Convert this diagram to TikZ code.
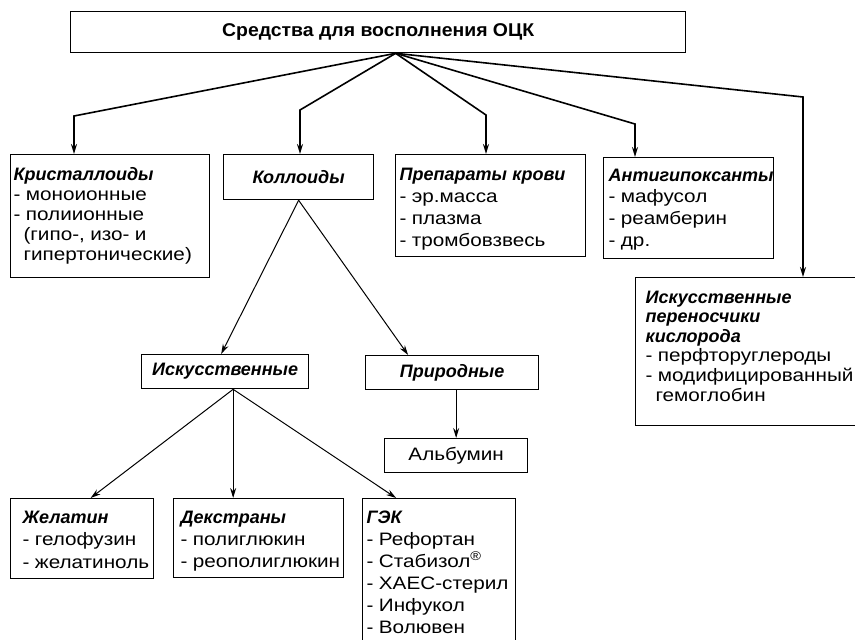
\documentclass[tikz,border=0pt]{standalone}
\usepackage{fontspec}
\setmainfont{Liberation Sans}[UprightFeatures={FakeStretch=1.15},BoldFeatures={FakeStretch=1.05}]
\usetikzlibrary{arrows.meta,positioning}
\tikzstyle{blok} = [draw, line width=1.3pt, rectangle, anchor=north west, inner ysep=0pt, font=\fontsize{18}{20}\selectfont]
\tikzstyle{zagolovok} = [blok, font=\fontsize{18}{20}\selectfont\bfseries\itshape]
\tikzstyle{strelka} = [line width=1.6pt, -{Stealth[length=10pt,width=6pt]}]
\tikzstyle{vetka} = [line width=1pt, -{Stealth[length=10pt,width=6pt]}]
\newcommand{\zag}[1]{\textbf{\textit{#1}}}
% shirina, vysota, interval, otstup, tekst
\newcommand{\spisok}[5]{\begin{minipage}[c][#2][t]{#1}\fontsize{18}{#3}\selectfont\raggedright\hyphenpenalty=10000\exhyphenpenalty=10000\hbadness=10000\hfuzz=100pt\spaceskip=0.3em\relax\vspace*{#4}#5\end{minipage}}

\begin{document}
\begin{tikzpicture}[x=1pt,y=-1pt]
		\clip (0,0) rectangle (855,640);
		\node[blok, minimum width=615pt, minimum height=41pt, font=\fontsize{18.5}{20}\selectfont\bfseries] (ock) at (70,11) {Средства для восполнения ОЦК};
		% pervyj uroven
		\node[blok, inner xsep=3pt] (kristall) at (10,154) {\spisok{193pt}{123pt}{20pt}{13pt}{\zag{Кристаллоиды}\\-~моноионные\\-~полиионные\\\hspace*{0.55em}(гипо-,~изо-~и\\\hspace*{0.55em}гипертонические)}};
		\node[zagolovok, minimum width=150pt, minimum height=45pt] (kolloid) at (223,154) {Коллоиды};
		\node[blok, inner xsep=4pt] (krov) at (395,154) {\spisok{182pt}{102pt}{22pt}{13pt}{\zag{Препараты крови}\\-~эр.масса\\-~плазма\\-~тромбовзвесь}};
		\node[blok, inner xsep=5pt] (antigip) at (603,157) {\spisok{160pt}{101pt}{21.7pt}{11pt}{\zag{Антигипоксанты}\\-~мафусол\\-~реамберин\\-~др.}};
		\node[blok, inner xsep=10pt] (perenos) at (635,277) {\spisok{212pt}{148pt}{19.6pt}{13pt}{\zag{Искусственные}\\\zag{переносчики}\\\zag{кислорода}\\-~перфторуглероды\\-~модифицированный\\\hspace*{0.55em}гемоглобин}};
		% kolloidy
		\node[zagolovok, minimum width=167pt, minimum height=34pt] (iskus) at (141,354) {Искусственные};
		\node[zagolovok, minimum width=173pt, minimum height=34pt] (prirod) at (365,355) {Природные};
		\node[blok, minimum width=143pt, minimum height=34pt] (albumin) at (384,438) {Альбумин};
		\node[blok, inner xsep=12pt] (zhelatin) at (10,498) {\spisok{119pt}{80pt}{22.5pt}{12pt}{\zag{Желатин}\\-~гелофузин\\-~желатиноль}};
		\node[blok, inner xsep=7pt] (dekstran) at (173,498) {\spisok{156pt}{79pt}{22pt}{12pt}{\zag{Декстраны}\\-~полиглюкин\\-~реополиглюкин}};
		\node[blok, inner xsep=4pt] (gek) at (362,498) {\spisok{145pt}{150pt}{22pt}{12pt}{\zag{ГЭК}\\-~Рефортан\\-~Стабизол\textsuperscript{®}\\-~ХАЕС-стерил\\-~Инфукол\\-~Волювен}};
		% strelki
		\coordinate (uzel) at ([xshift=17.5pt]ock.south);
		\coordinate (izlom1) at (74,116);
		\coordinate (izlom2) at (300,110);
		\coordinate (izlom3) at (486,115);
		\coordinate (izlom4) at (635,124);
		\coordinate (izlom5) at (803,97);
		\draw[strelka] (uzel) -- (izlom1) -- (izlom1 |- kristall.north);
		\draw[strelka] (uzel) -- (izlom2) -- (izlom2 |- kolloid.north);
		\draw[strelka] (uzel) -- (izlom3) -- (izlom3 |- krov.north);
		\draw[strelka] (uzel) -- (izlom4) -- (izlom4 |- antigip.north);
		\draw[strelka] (uzel) -- (izlom5) -- (izlom5 |- perenos.north);
		\draw[vetka] (kolloid.south) -- ([xshift=-4pt]iskus.north);
		\draw[vetka] (kolloid.south) -- ([xshift=-44pt]prirod.north);
		\draw[vetka] ([xshift=8pt]iskus.south) -- ([xshift=8.5pt]zhelatin.north);
		\draw[vetka] ([xshift=8pt]iskus.south) -- ([xshift=8pt]iskus.south |- dekstran.north);
		\draw[vetka] ([xshift=8pt]iskus.south) -- ([xshift=-43pt]gek.north);
		\draw[vetka] (albumin.north |- prirod.south) -- (albumin.north);
	\end{tikzpicture}
\end{document}
